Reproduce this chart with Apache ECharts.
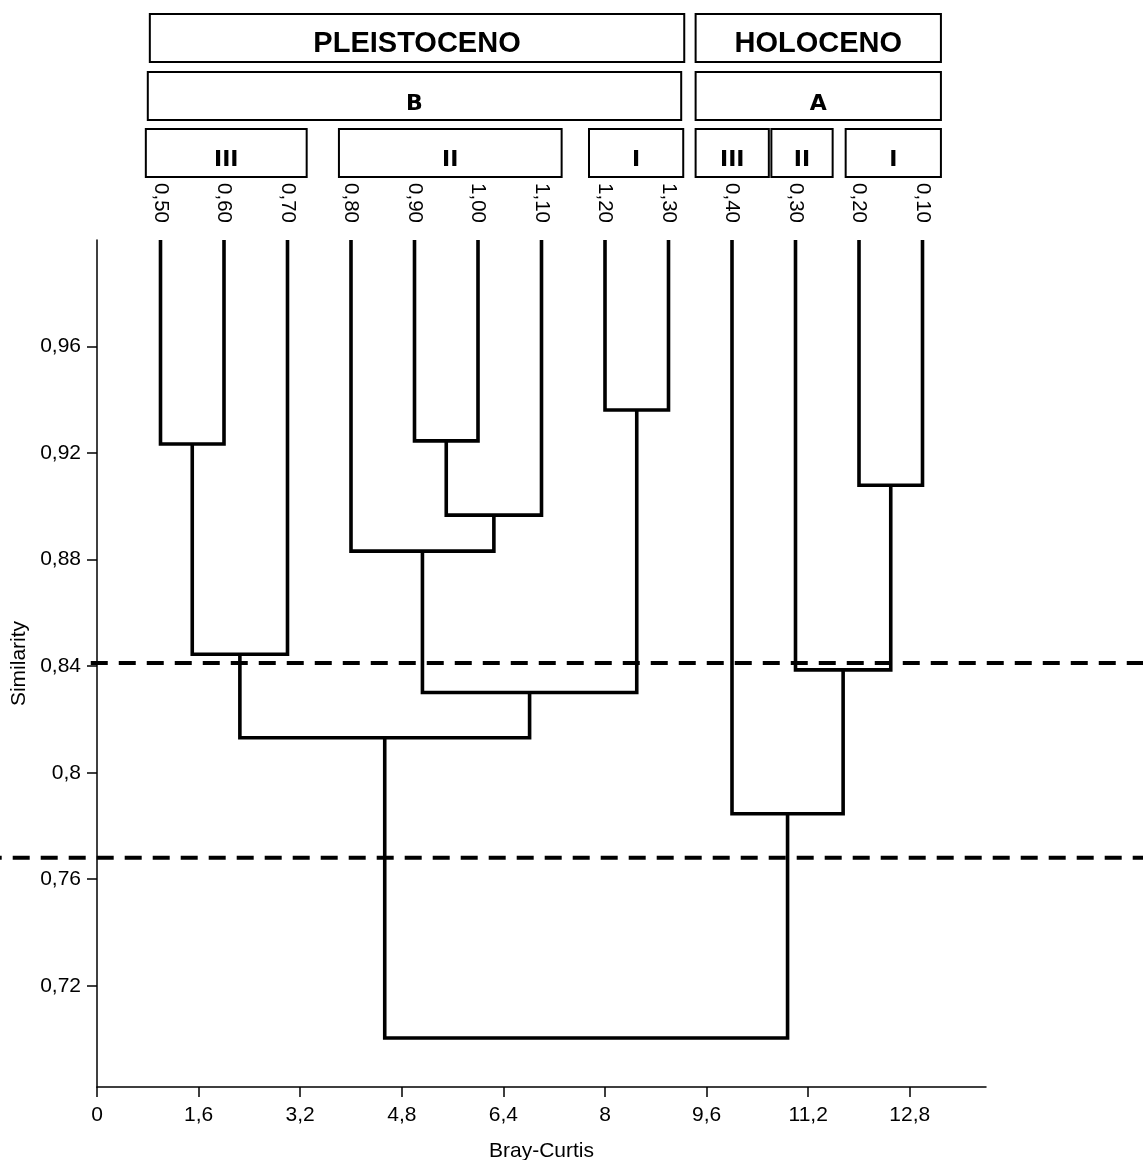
<!DOCTYPE html>
<html>
<head>
<meta charset="utf-8">
<title>Dendrograma Bray-Curtis</title>
<script src="https://cdn.jsdelivr.net/npm/echarts@6/dist/echarts.min.js"></script>
<style>
  html, body { margin: 0; padding: 0; background: #fff; }
  #chart { width: 1143px; height: 1160px; }
</style>
</head>
<body>
<div id="chart"></div>
<script>
// Leaves of the dendrogram, left to right
const leafLabels = ['0,50', '0,60', '0,70', '0,80', '0,90', '1,00', '1,10', '1,20', '1,30', '0,40', '0,30', '0,20', '0,10'];
const leafSimilarity = 1.0;

// Agglomeration steps: node ids 0..12 are leaves, step k creates node 13 + k
const mergeLeft = [0, 13, 4, 15, 3, 7, 17, 14, 11, 10, 9, 20];
const mergeRight = [1, 2, 5, 6, 16, 8, 18, 19, 12, 21, 22, 23];
const mergeSimilarity = [0.9234, 0.8445, 0.9246, 0.8967, 0.8832, 0.9362, 0.8301, 0.8131, 0.9079, 0.8386, 0.7846, 0.7004];

// Similarity cut levels (dashed lines)
const cutLevels = [0.8412, 0.7681];

// Axis ticks
const xTicks = [0, 1.6, 3.2, 4.8, 6.4, 8, 9.6, 11.2, 12.8];
const yTicks = [0.72, 0.76, 0.8, 0.84, 0.88, 0.92, 0.96];

// Group labels above the tree
const periodLabels = ['PLEISTOCENO', 'HOLOCENO'];
const clusterLabels = ['B', 'A'];
const subgroupLabels = ['III', 'II', 'I', 'III', 'II', 'I'];

// Layout: horizontal spans of the label boxes (x-axis units) and their rows (pixels)
const boxSpans = {
  period: [[0.832, 9.248], [9.427, 13.29]],
  cluster: [[0.80, 9.20], [9.427, 13.29]],
  subgroup: [[0.769, 3.302], [3.81, 7.317], [7.748, 9.232], [9.427, 10.58], [10.62, 11.585], [11.79, 13.29]]
};
const boxRows = {
  period: { top: 14, height: 48, textY: 43.5, size: 29, family: '"Liberation Sans", Arial, sans-serif' },
  cluster: { top: 72, height: 48, textY: 104.5, size: 22, family: '"DejaVu Sans", sans-serif' },
  subgroup: { top: 129, height: 48, textY: 160.5, size: 22, family: '"DejaVu Sans", sans-serif' }
};
// Layout: where each dashed cut line starts, as a fraction of the chart width, and its dash phase
const cutLineStart = [0.0794, 0];
const cutDashOffset = [0, 15.3];

const FONT = '"Liberation Sans", Arial, sans-serif';
const fmt = v => String(v).replace('.', ',');

// Node positions: leaves at 1..n, merged nodes centred over their children
const nodeX = leafLabels.map((_, i) => i + 1);
const nodeY = leafLabels.map(() => leafSimilarity);
const links = [];
mergeLeft.forEach((l, k) => {
  const r = mergeRight[k];
  const y = mergeSimilarity[k];
  links.push([nodeX[l], nodeY[l], nodeX[r], nodeY[r], y]);
  nodeX.push((nodeX[l] + nodeX[r]) / 2);
  nodeY.push(y);
});

// Label boxes
const boxItems = [];
periodLabels.forEach((t, i) => boxItems.push({ text: t, span: boxSpans.period[i], row: boxRows.period }));
clusterLabels.forEach((t, i) => boxItems.push({ text: t, span: boxSpans.cluster[i], row: boxRows.cluster }));
subgroupLabels.forEach((t, i) => boxItems.push({ text: t, span: boxSpans.subgroup[i], row: boxRows.subgroup }));

const yMin = 0.682, yMax = 1.0;

const chart = echarts.init(document.getElementById('chart'), null, { renderer: 'canvas' });
chart.setOption({
  animation: false,
  backgroundColor: '#fff',
  grid: [
    { left: 97, right: 157, top: 240, bottom: 73, containLabel: false, outerBoundsMode: 'none' },
    { left: 0, right: 0, top: 240, bottom: 73, containLabel: false, outerBoundsMode: 'none' }
  ],
  xAxis: [
    {
      type: 'value', gridIndex: 0, position: 'bottom', min: 0, max: 14,
      name: 'Bray-Curtis', nameLocation: 'middle', nameGap: 54,
      nameTextStyle: { fontSize: 21, fontFamily: FONT, color: '#000' },
      axisLine: { show: true, onZero: false, lineStyle: { color: '#000', width: 1.5 } },
      axisTick: { show: true, length: 10, lineStyle: { color: '#000', width: 1.5 }, customValues: xTicks },
      axisLabel: { customValues: xTicks, formatter: fmt, margin: 18, fontSize: 21, fontFamily: FONT, color: '#000' },
      splitLine: { show: false }
    },
    {
      type: 'value', gridIndex: 0, position: 'top', min: 0, max: 14,
      axisLine: { show: false }, axisTick: { show: false }, splitLine: { show: false },
      axisLabel: {
        customValues: leafLabels.map((_, i) => i + 1),
        formatter: v => leafLabels[Math.round(v) - 1],
        rotate: 90, margin: 17, fontSize: 20.5, fontFamily: FONT, color: '#000'
      }
    },
    { type: 'value', gridIndex: 1, min: 0, max: 1, show: false }
  ],
  yAxis: [
    {
      type: 'value', gridIndex: 0, min: yMin, max: yMax,
      name: 'Similarity', nameLocation: 'middle', nameGap: 64,
      nameTextStyle: { fontSize: 21, fontFamily: FONT, color: '#000' },
      axisLine: { show: true, onZero: false, lineStyle: { color: '#000', width: 1.5 } },
      axisTick: { show: true, length: 10, lineStyle: { color: '#000', width: 1.5 }, customValues: yTicks },
      axisLabel: { customValues: yTicks, formatter: fmt, margin: 16, fontSize: 21, fontFamily: FONT, color: '#000' },
      splitLine: { show: false }
    },
    { type: 'value', gridIndex: 1, min: yMin, max: yMax, show: false }
  ],
  series: [
    {
      type: 'custom',
      name: 'dendrogram',
      xAxisIndex: 0, yAxisIndex: 0,
      silent: true,
      data: links,
      encode: { x: [0, 2], y: [1, 3, 4] },
      renderItem: (params, api) => {
        const xl = api.value(0), yl = api.value(1), xr = api.value(2), yr = api.value(3), ym = api.value(4);
        return {
          type: 'polyline',
          shape: { points: [api.coord([xl, yl]), api.coord([xl, ym]), api.coord([xr, ym]), api.coord([xr, yr])] },
          style: { stroke: '#000', lineWidth: 3.6, fill: null, lineJoin: 'miter', lineCap: 'butt' }
        };
      }
    },
    {
      type: 'custom',
      name: 'groups',
      xAxisIndex: 0, yAxisIndex: 0,
      silent: true,
      clip: false,
      data: boxItems.map(b => [b.span[0], b.span[1], yMax]),
      encode: { x: [0, 1], y: 2 },
      renderItem: (params, api) => {
        const b = boxItems[params.dataIndex];
        const x0 = api.coord([api.value(0), yMax])[0];
        const x1 = api.coord([api.value(1), yMax])[0];
        return {
          type: 'group',
          children: [
            {
              type: 'rect',
              shape: { x: x0, y: b.row.top, width: x1 - x0, height: b.row.height },
              style: { stroke: '#000', lineWidth: 2, fill: '#fff' }
            },
            {
              type: 'text',
              style: {
                text: b.text, x: (x0 + x1) / 2, y: b.row.textY,
                align: 'center', verticalAlign: 'middle',
                fontSize: b.row.size, fontWeight: 'bold', fontFamily: b.row.family, fill: '#000'
              }
            }
          ]
        };
      }
    },
    ...cutLevels.map((v, i) => ({
      type: 'line',
      name: 'cut ' + (i + 1),
      xAxisIndex: 2, yAxisIndex: 1,
      silent: true,
      symbol: 'none',
      data: [[cutLineStart[i], v], [1, v]],
      lineStyle: { color: '#000', width: 4, type: [17, 11], dashOffset: cutDashOffset[i] },
      z: 3
    }))
  ]
});
</script>
</body>
</html>
